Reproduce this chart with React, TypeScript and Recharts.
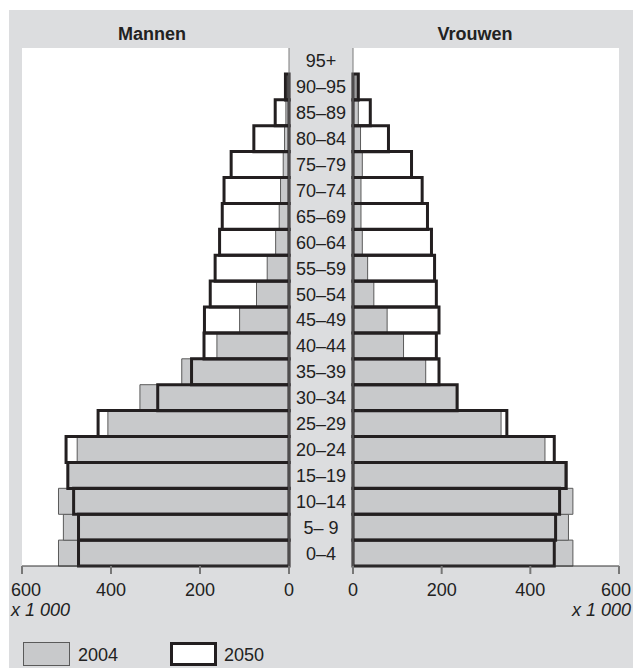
import React from 'react';
import { BarChart, Bar, XAxis, YAxis, CartesianGrid } from 'recharts';

const categories = ['0–4', '5– 9', '10–14', '15–19', '20–24', '25–29', '30–34', '35–39', '40–44', '45–49', '50–54', '55–59', '60–64', '65–69', '70–74', '75–79', '80–84', '85–89', '90–95', '95+'];
const men2004 = [518, 507, 518, 498, 476, 407, 335, 241, 162, 111, 73, 49, 30, 22, 19, 13, 10, 7, 3, 0];
const men2050 = [473, 473, 484, 497, 501, 429, 295, 219, 191, 190, 177, 166, 156, 150, 146, 130, 79, 31, 8, 0];
const women2004 = [496, 486, 496, 478, 433, 334, 233, 164, 114, 77, 47, 33, 21, 18, 18, 21, 17, 12, 7, 0];
const women2050 = [454, 457, 466, 481, 454, 347, 235, 194, 188, 194, 188, 184, 177, 168, 156, 132, 80, 39, 12, 0];
const xTicks = [0, 200, 400, 600];

const menData = categories.map((age, i) => ({ age, y2004: men2004[i], y2050: men2050[i] }));
const womenData = categories.map((age, i) => ({ age, y2004: women2004[i], y2050: women2050[i] }));

const FONT = '"Liberation Sans", Arial, Helvetica, sans-serif';
const BG = '#dcdddf';
const BAR_GREY = '#c8c9cb';
const BAR_GREY_STROKE = '#5a5a5a';
const DARK = '#231f20';
const BORDER = '#7a7a7a';
const TEXT = '#222';

const AgeTick = (props: any) => {
  const { x, y, payload } = props;
  return (
    <text x={x} y={y} dy="0.36em" textAnchor="middle" fontSize={18} fill={TEXT} fontFamily={FONT}>
      {payload.value}
    </text>
  );
};

const makeXTick = (edgeShift: number) => (props: any) => {
  const { x, y, payload } = props;
  const dx = payload.value === 600 ? edgeShift : 0;
  return (
    <text x={x + dx} y={y} dy="0.71em" textAnchor="middle" fontSize={18} fill={TEXT} fontFamily={FONT}>
      {payload.value}
    </text>
  );
};

const LeftXTick = makeXTick(4);
const RightXTick = makeXTick(-3);

export default function App() {
  return (
    <div style={{ position: 'absolute', left: 0, top: 0, width: 633, height: 668, background: '#fff', fontFamily: FONT }}>
      <div style={{ position: 'absolute', left: 9, top: 10, width: 624, height: 658, background: BG }} />
      <div style={{ position: 'absolute', left: 0, top: 0 }}>
        <BarChart
          width={353}
          height={668}
          layout="vertical"
          data={menData}
          margin={{ top: 48, right: 0, left: 22, bottom: 72 }}
          barCategoryGap={0}
        >
          <CartesianGrid horizontal={false} vertical={false} fill="#fff" xAxisId="b" yAxisId="a" />
          <XAxis
            xAxisId="b"
            type="number"
            domain={[0, 600]}
            ticks={xTicks}
            interval={0}
            reversed
            height={30}
            tickSize={8}
            tickMargin={9}
            axisLine={{ stroke: '#333', strokeWidth: 1.2 }}
            tickLine={{ stroke: '#777', strokeWidth: 2 }}
            tick={<LeftXTick />}
          />
          <XAxis xAxisId="t" orientation="top" type="number" domain={[0, 600]} reversed height={0} tick={false} tickLine={false} axisLine={{ stroke: BORDER }} />
          <YAxis
            yAxisId="a"
            type="category"
            dataKey="age"
            orientation="right"
            width={64}
            reversed
            interval={0}
            tickSize={0}
            tickMargin={32}
            tickLine={false}
            axisLine={{ stroke: BORDER }}
            tick={<AgeTick />}
          />
          <YAxis yAxisId="b" type="category" dataKey="age" orientation="left" width={0} reversed tick={false} tickLine={false} axisLine={{ stroke: BORDER }} />
          <Bar xAxisId="b" yAxisId="a" dataKey="y2004" fill={BAR_GREY} stroke={BAR_GREY_STROKE} strokeWidth={1} isAnimationActive={false} />
          <Bar xAxisId="b" yAxisId="b" dataKey="y2050" fill="none" stroke={DARK} strokeWidth={3} isAnimationActive={false} />
        </BarChart>
      </div>
      <div style={{ position: 'absolute', left: 289, top: 0 }}>
        <BarChart
          width={344}
          height={668}
          layout="vertical"
          data={womenData}
          margin={{ top: 48, right: 14, left: 0, bottom: 72 }}
          barCategoryGap={0}
        >
          <CartesianGrid horizontal={false} vertical={false} fill="#fff" xAxisId="b" yAxisId="a" />
          <XAxis
            xAxisId="b"
            type="number"
            domain={[0, 600]}
            ticks={xTicks}
            interval={0}
            height={30}
            tickSize={8}
            tickMargin={9}
            axisLine={{ stroke: '#333', strokeWidth: 1.2 }}
            tickLine={{ stroke: '#777', strokeWidth: 2 }}
            tick={<RightXTick />}
          />
          <XAxis xAxisId="t" orientation="top" type="number" domain={[0, 600]} height={0} tick={false} tickLine={false} axisLine={{ stroke: BORDER }} />
          <YAxis yAxisId="a" type="category" dataKey="age" orientation="left" width={64} reversed tick={false} tickLine={false} axisLine={{ stroke: BORDER }} />
          <YAxis yAxisId="b" type="category" dataKey="age" orientation="right" width={0} reversed tick={false} tickLine={false} axisLine={{ stroke: BORDER }} />
          <Bar xAxisId="b" yAxisId="a" dataKey="y2004" fill={BAR_GREY} stroke={BAR_GREY_STROKE} strokeWidth={1} isAnimationActive={false} />
          <Bar xAxisId="b" yAxisId="b" dataKey="y2050" fill="none" stroke={DARK} strokeWidth={3} isAnimationActive={false} />
        </BarChart>
      </div>
      <svg width={633} height={668} style={{ position: 'absolute', left: 0, top: 0, pointerEvents: 'none' }}>
        <text x={152} y={40} textAnchor="middle" fontSize={18} fontWeight="bold" fill={TEXT} fontFamily={FONT}>Mannen</text>
        <text x={475} y={40} textAnchor="middle" fontSize={18} fontWeight="bold" fill={TEXT} fontFamily={FONT}>Vrouwen</text>
        <text x={11} y={616} textAnchor="start" fontSize={18} fontStyle="italic" fill={TEXT} fontFamily={FONT}>x 1 000</text>
        <text x={631} y={616} textAnchor="end" fontSize={18} fontStyle="italic" fill={TEXT} fontFamily={FONT}>x 1 000</text>
        <rect x={23.5} y={642.5} width={46} height={23} fill={BAR_GREY} stroke={BAR_GREY_STROKE} strokeWidth={1} />
        <text x={78} y={661} fontSize={18} fill={TEXT} fontFamily={FONT}>2004</text>
        <rect x={171.5} y={643.5} width={44} height={21} fill="#fff" stroke={DARK} strokeWidth={3} />
        <text x={224} y={661} fontSize={18} fill={TEXT} fontFamily={FONT}>2050</text>
      </svg>
    </div>
  );
}
